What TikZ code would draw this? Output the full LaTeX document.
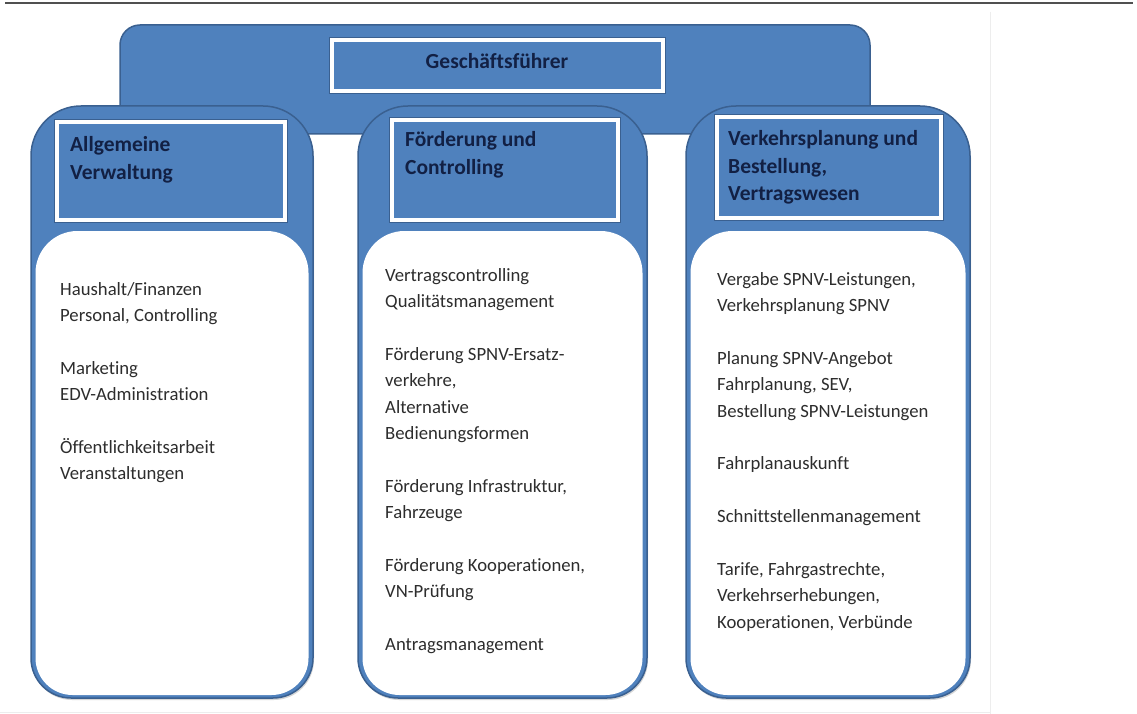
\documentclass[tikz,border=0pt]{standalone}
\usepackage{fontspec}
\setmainfont{Carlito}[Ligatures=NoCommon]
\definecolor{orgblue}{RGB}{79,129,189}
\definecolor{orgedge}{RGB}{58,96,144}
\definecolor{orgnavy}{RGB}{18,32,68}
\definecolor{bodytext}{RGB}{45,45,45}
\definecolor{rulegray}{RGB}{80,80,80}

% one department column: blue panel with a white content area below the heading
\newcommand\deptpanel[2]{%
  \path[fill=black!16,shift={(1,2)}] (#1,400) [rounded corners=50pt] |- ({(#1+#2)/2},106)
     -| (#2,400) [rounded corners=40pt] |- ({(#1+#2)/2},698) -| (#1,400) -- cycle;
  \path[panel] (#1,400) [rounded corners=50pt] |- ({(#1+#2)/2},106)
     -| (#2,400) [rounded corners=40pt] |- ({(#1+#2)/2},698) -| (#1,400) -- cycle;
  \path[fill=white] (#1+4.5,400) [rounded corners=42pt] |- ({(#1+#2)/2},231)
     -| (#2-4.5,400) [rounded corners=37pt] |- ({(#1+#2)/2},695) -| (#1+4.5,400) -- cycle;
}

\begin{document}
\begin{tikzpicture}[x=1pt,y=-1pt,
  panel/.style={fill=orgblue,draw=orgedge,line width=1.5pt},
  framebox/.style={fill=orgblue,draw=white,line width=4pt,
    preaction={draw=orgedge,line width=6pt},inner sep=0},
  headtext/.style={anchor=base west,inner sep=0,text=orgnavy,
    font=\bfseries\fontsize{21.5}{27.5}\selectfont},
  bodytxt/.style={anchor=base west,inner sep=0,text=bodytext,
    font=\fontsize{18.7}{26.4}\selectfont},
]
\useasboundingbox (0,0) rectangle (1137,714);
\fill[white] (0,0) rectangle (1137,714);

% page rule and faint image border
\draw[rulegray,line width=2.2pt] (5,3) -- (1133,3);
\draw[black!7,line width=0.8pt] (990,12) -- (990,714);
\draw[black!7,line width=0.8pt] (0,712) -- (990,712);

% managing director banner
\path[panel,rounded corners=20pt] (120,25) rectangle (870,134);
\node[framebox,minimum width=331pt,minimum height=51pt] (gf) at (497.5,65.5) {};
\node[anchor=base,inner sep=0,text=orgnavy,font=\bfseries\fontsize{21.5}{26}\selectfont]
  (gftext) at (497,69) {Geschäftsführer};

% department columns
\deptpanel{31}{313}
\deptpanel{358}{647}
\deptpanel{686}{970}

% heading frames
\node[framebox,minimum width=228pt,minimum height=98pt] (hL) at (171,171) {};
\node[framebox,minimum width=226pt,minimum height=100pt] (hM) at (505,170) {};
\node[framebox,minimum width=224pt,minimum height=101pt] (hR) at (829,167.5) {};

% headings
\node[headtext] (tL) at (70,152) {\parbox[t]{210pt}{Allgemeine\\Verwaltung}};
\node[headtext] (tM) at (405,147) {\parbox[t]{210pt}{Förderung und\\Controlling}};
\node[headtext] (tR) at (728,146) {\parbox[t]{210pt}{Verkehrsplanung und\\Bestellung,\\Vertragswesen}};

% tasks
\node[bodytxt] (bL) at (60,295) {\parbox[t]{245pt}{%
  Haushalt/Finanzen\\Personal, Controlling\\[26.4pt]%
  Marketing\\EDV-Administration\\[26.4pt]%
  Öffentlichkeitsarbeit\\Veranstaltungen}};
\node[bodytxt] (bM) at (385,281) {\parbox[t]{255pt}{%
  Vertragscontrolling\\Qualitätsmanagement\\[26.4pt]%
  Förderung SPNV-Ersatz-\\verkehre,\\Alternative\\Bedienungsformen\\[26.4pt]%
  Förderung Infrastruktur,\\Fahrzeuge\\[26.4pt]%
  Förderung Kooperationen,\\VN-Prüfung\\[26.4pt]%
  Antragsmanagement}};
\node[bodytxt] (bR) at (717,285) {\parbox[t]{250pt}{%
  Vergabe SPNV-Leistungen,\\Verkehrsplanung SPNV\\[26.4pt]%
  Planung SPNV-Angebot\\Fahrplanung, SEV,\\Bestellung SPNV-Leistungen\\[26.4pt]%
  Fahrplanauskunft\\[26.4pt]%
  Schnittstellenmanagement\\[26.4pt]%
  Tarife, Fahrgastrechte,\\Verkehrserhebungen,\\Kooperationen, Verbünde}};
\end{tikzpicture}
\end{document}
